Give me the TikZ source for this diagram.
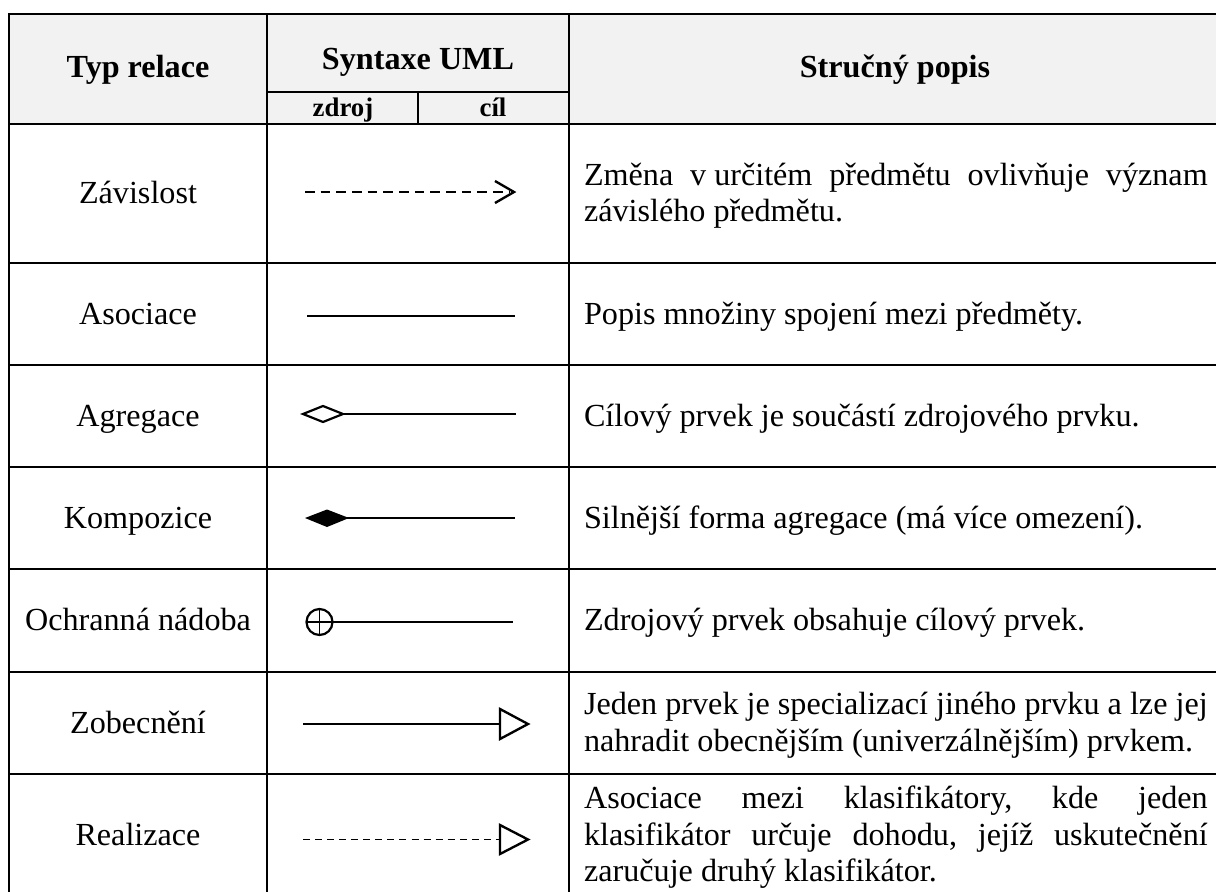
\documentclass[tikz,border=0pt]{standalone}
\usepackage{fontspec}
\setmainfont{Liberation Serif}
\definecolor{hdrgray}{HTML}{F2F2F2}
% width of the text block in the description column
\newlength\descw
\setlength\descw{232.7pt}
% one fully justified line of a description
\newcommand\jline[1]{\hbox to\descw{#1}}
\begin{document}
\begin{tikzpicture}[x=0.37313pt,y=-0.37313pt,
  gridline/.style={line width=0.97pt,line cap=rect},
  hdr/.style={font=\fontsize{12pt}{13.7pt}\selectfont\bfseries,inner sep=0pt,anchor=base},
  subhdr/.style={font=\fontsize{10pt}{11.5pt}\selectfont\bfseries,inner sep=0pt,anchor=base},
  typlabel/.style={font=\fontsize{12pt}{13.7pt}\selectfont,inner sep=0pt,anchor=base},
  desc/.style={font=\fontsize{12pt}{13.7pt}\selectfont\frenchspacing,inner sep=0pt,anchor=base west},
  depline/.style={line width=0.88pt,dash pattern=on 3.6pt off 2.25pt},
  realline/.style={line width=0.6pt,dash pattern=on 2.6pt off 1.9pt},
  thinline/.style={line width=0.66pt},
  midline/.style={line width=0.82pt},
  tiphead/.style={line width=0.88pt,line join=miter}]
\useasboundingbox (0,0) rectangle (1216,891);
\clip (0,0) rectangle (1216,891);

% table geometry (columns and rows)
\def\L{9}\def\Ca{267}\def\Cb{418}\def\Cc{569}\def\R{1221}
\def\T{14}\def\Sub{92}\def\H{124}\def\B{896}

% header background
\fill[hdrgray] (\L,\T) rectangle (\R,\H);

% grid
\foreach \y in {\T,\H,263,365,467,569,672,774,\B}
  \draw[gridline] (\L,\y) -- (\R,\y);
\foreach \x in {\L,\Ca,\Cc,\R}
  \draw[gridline] (\x,\T) -- (\x,\B);
\draw[gridline] (\Ca,\Sub) -- (\Cc,\Sub);
\draw[gridline] (\Cb,\Sub) -- (\Cb,\H);

% header texts
\node[hdr] (hType) at (138,78) {Typ relace};
\node[hdr] (hSyntax) at (418,70) {Syntaxe UML};
\node[subhdr] (hSrc) at (343,117) {zdroj};
\node[subhdr] (hDst) at (493,117) {cíl};
\node[hdr] (hDesc) at (895,78) {Stručný popis};

% relation names
\node[typlabel] (t1) at (138,203.5) {Závislost};
\node[typlabel] (t2) at (138,324) {Asociace};
\node[typlabel] (t3) at (138,426) {Agregace};
\node[typlabel] (t4) at (138,528) {Kompozice};
\node[typlabel] (t5) at (138,630.5) {Ochranná nádoba};
\node[typlabel] (t6) at (138,733) {Zobecnění};
\node[typlabel] (t7) at (138,845) {Realizace};

% UML notation
% dependency
\draw[depline] (305,192) -- (510,192);
\draw[tiphead] (495,181) -- (514,192) -- (495,203);
% association
\draw[midline,line width=0.93pt] (307,316) -- (515,316);
% aggregation
\draw[midline] (303,414) -- (323,406) -- (343,414) -- (323,422) -- cycle;
\draw[midline] (343,414) -- (516,414);
% composition
\fill (305,518) -- (327,509.5) -- (349,518) -- (327,527) -- cycle;
\draw[midline] (346,518) -- (515,518);
% containment
\draw[midline] (319.5,622) circle (13);
\draw[thinline] (306.5,622) -- (513,622);
\draw[thinline] (319.5,609) -- (319.5,635);
% generalization
\draw[thinline] (303,724) -- (500,724);
\draw[tiphead] (500,709) -- (528,724) -- (500,739) -- cycle;
% realization
\draw[realline] (303,839.5) -- (500,839.5);
\draw[tiphead] (500,825) -- (528,839.5) -- (500,854) -- cycle;

% descriptions
\node[desc] (d1) at (583.5,185.2) {\vtop{%
  \jline{Změna v\kern.25em určitém předmětu ovlivňuje význam}%
  \hbox{závislého předmětu.}}};
\node[desc] (d2) at (583.5,324) {Popis množiny spojení mezi předměty.};
\node[desc] (d3) at (583.5,426) {Cílový prvek je součástí zdrojového prvku.};
\node[desc] (d4) at (583.5,528) {Silnější forma agregace (má více omezení).};
\node[desc] (d5) at (583.5,630.5) {Zdrojový prvek obsahuje cílový prvek.};
\node[desc] (d6) at (583.5,714.7) {\vtop{%
  \jline{Jeden prvek je specializací jiného prvku a lze jej}%
  \hbox{nahradit obecnějším (univerzálnějším) prvkem.}}};
\node[desc] (d7) at (583.5,808.4) {\vtop{%
  \jline{Asociace mezi klasifikátory, kde jeden}%
  \jline{klasifikátor určuje dohodu, jejíž uskutečnění}%
  \hbox{zaručuje druhý klasifikátor.}}};
\end{tikzpicture}
\end{document}
